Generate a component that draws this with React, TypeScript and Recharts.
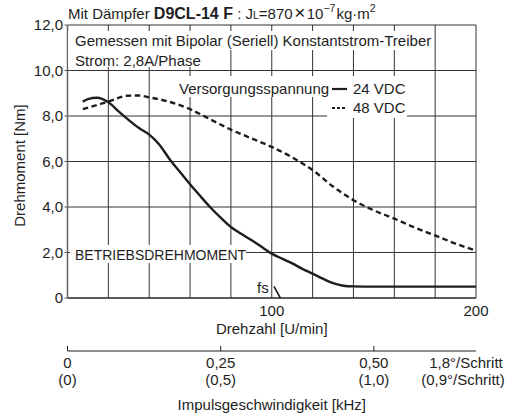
import React from 'react';
import { LineChart, Line, XAxis, YAxis, ReferenceLine, CartesianGrid } from 'recharts';

// Drehzahl [U/min] / Drehmoment [Nm]
const speed24 = [7.5, 10, 14.4, 20, 25, 30, 35, 40, 45, 50, 55, 60, 65, 70, 75, 80, 85, 90, 95, 100, 105, 110, 115, 120, 125, 130, 135, 140, 150, 200];
const torque24 = [8.63, 8.74, 8.8, 8.6, 8.2, 7.82, 7.47, 7.18, 6.74, 6.1, 5.55, 5.0, 4.48, 3.98, 3.53, 3.12, 2.82, 2.55, 2.25, 1.95, 1.73, 1.52, 1.28, 1.07, 0.85, 0.65, 0.54, 0.51, 0.5, 0.5];
const speed48 = [7.5, 15, 21, 25, 29, 35, 40, 50, 60, 70, 80, 90, 100, 110, 120, 130, 140, 150, 160, 170, 180, 190, 200];
const torque48 = [8.3, 8.5, 8.66, 8.8, 8.89, 8.9, 8.82, 8.62, 8.3, 7.85, 7.4, 7.02, 6.64, 6.18, 5.62, 4.9, 4.3, 3.85, 3.49, 3.1, 2.75, 2.39, 2.08];

const speedTicks = [0, 20, 40, 60, 80, 100, 120, 140, 160, 180, 200];
const speedLabels = [100, 200];
const torqueTicks = [0, 2, 4, 6, 8, 10, 12];

// second scale: Impulsgeschwindigkeit, placed at the matching speed
const pulseTicks = [0, 75, 150];
const pulseLabels = ['0', '0,25', '0,50'];
const halfStepLabels = ['(0)', '(0,5)', '(1,0)'];

const fsLine = [{ x: 101.1, y: 0.51 }, { x: 104.2, y: 0 }];

// one table for the chart, both curves keyed by speed
const speeds = Array.from(new Set([...speed24, ...speed48])).sort((a, b) => a - b);
const table = speeds.map((s) => {
  const i24 = speed24.indexOf(s);
  const i48 = speed48.indexOf(s);
  return { s, t24: i24 >= 0 ? torque24[i24] : null, t48: i48 >= 0 ? torque48[i48] : null };
});

const FONT = '"Liberation Sans", Arial, sans-serif';
const INK = '#1e1e1e';
const FS = 15;

const PulseTick = (props: any) => {
  const { x, y, payload } = props;
  const i = pulseTicks.indexOf(payload.value);
  if (i < 0) return null;
  return (
    <g>
      <line x1={x} x2={x} y1={y - 5} y2={y} stroke={INK} strokeWidth={1} />
      <text x={x} y={y + 17} textAnchor="middle" fontSize={FS} fill={INK} fontFamily={FONT}>{pulseLabels[i]}</text>
      <text x={x} y={y + 34} textAnchor="middle" fontSize={FS} fill={INK} fontFamily={FONT}>{halfStepLabels[i]}</text>
    </g>
  );
};

const fmtTorque = (v: number) => (v === 0 ? '0' : v.toFixed(1).replace('.', ','));

export default function App() {
  return (
    <div style={{ position: 'absolute', left: 0, top: 0, width: 516, height: 418, fontFamily: FONT }}>
      <LineChart width={516} height={418} data={table} margin={{ top: 25, right: 40, left: 0, bottom: 0 }}>
        <CartesianGrid stroke="#333" />
        <XAxis
          type="number"
          dataKey="s"
          domain={[0, 200]}
          ticks={speedTicks}
          tickFormatter={(v: number) => (speedLabels.includes(v) ? String(v) : '')}
          tickLine={false}
          tickSize={5}
          tickMargin={2}
          axisLine={{ stroke: INK }}
          height={53}
          tick={{ fontSize: FS, fill: INK, fontFamily: FONT }}
          label={{ value: 'Drehzahl [U/min]', position: 'insideBottom', offset: 17, fontSize: FS, fill: INK, fontFamily: FONT }}
        />
        <XAxis
          xAxisId="pulse"
          type="number"
          dataKey="s"
          domain={[0, 200]}
          ticks={pulseTicks}
          tick={<PulseTick />}
          tickLine={false}
          tickSize={0}
          tickMargin={0}
          axisLine={{ stroke: INK }}
          height={67}
          label={{ value: 'Impulsgeschwindigkeit [kHz]', position: 'insideBottom', offset: 8, fontSize: FS, fill: INK, fontFamily: FONT }}
        />
        <YAxis
          type="number"
          domain={[0, 12]}
          ticks={torqueTicks}
          tickFormatter={fmtTorque}
          width={67.5}
          tickSize={3}
          tickMargin={1.5}
          tickLine={{ stroke: '#555' }}
          axisLine={{ stroke: '#666', strokeWidth: 1.5 }}
          tick={{ fontSize: FS, fill: INK, fontFamily: FONT }}
          label={{ value: 'Drehmoment [Nm]', angle: -90, position: 'insideLeft', offset: 20, dy: 4, fontSize: FS, fill: INK, fontFamily: FONT, style: { textAnchor: 'middle' } }}
        />
        <Line dataKey="t48" type="monotone" connectNulls stroke={INK} strokeWidth={2.4} strokeDasharray="5.5 3.5" dot={false} isAnimationActive={false} />
        <Line dataKey="t24" type="monotone" connectNulls stroke={INK} strokeWidth={2.4} dot={false} isAnimationActive={false} />
        <ReferenceLine segment={fsLine} stroke={INK} strokeWidth={1.6} />
      </LineChart>
      <svg width={516} height={418} style={{ position: 'absolute', left: 0, top: 0, pointerEvents: 'none' }} fontFamily={FONT}>
        <text x={68} y={19} fontSize={FS} fill={INK}>
          <tspan>Mit Dämpfer </tspan>
          <tspan fontWeight={900} fontSize={16}>D9CL-14 F</tspan>
          <tspan> : J</tspan>
          <tspan fontSize={10.5}>L</tspan>
          <tspan>=870</tspan>
          <tspan dx={1.5} fontSize={19}>×</tspan>
          <tspan dx={1.5}>10</tspan>
          <tspan fontSize={10.5} dy={-7}>−7</tspan>
          <tspan dx={1} dy={7}>kg·m</tspan>
          <tspan fontSize={10.5} dy={-7}>2</tspan>
        </text>
        <rect x={68} y={31} width={365} height={19} fill="#fff" />
        <rect x={68} y={50} width={132} height={17} fill="#fff" />
        <text x={75} y={46} fontSize={FS} fill={INK}>Gemessen mit Bipolar (Seriell) Konstantstrom-Treiber</text>
        <text x={75} y={66} fontSize={FS} fill={INK}>Strom: 2,8A/Phase</text>

        <rect x={177} y={76} width={229} height={21} fill="#fff" />
        <rect x={327} y={97} width={80} height={21} fill="#fff" />
        <text x={179} y={94} fontSize={FS} fill={INK}>Versorgungsspannung</text>
        <line x1={332} x2={347} y1={89} y2={89} stroke={INK} strokeWidth={2.2} />
        <text x={353} y={94} fontSize={FS} fill={INK}>24 VDC</text>
        <line x1={332} x2={347} y1={108} y2={108} stroke={INK} strokeWidth={2.2} strokeDasharray="3 2" />
        <text x={353} y={113} fontSize={FS} fill={INK}>48 VDC</text>

        <rect x={70} y={245} width={176} height={18} fill="#fff" />
        <text x={75} y={260} fontSize={14} fill={INK}>BETRIEBSDREHMOMENT</text>

        <text x={257} y={293} fontSize={FS} fill={INK}>fs</text>

        <text x={466} y={368} fontSize={FS} fill={INK} textAnchor="middle">1,8°/Schritt</text>
        <text x={463} y={385} fontSize={FS} fill={INK} textAnchor="middle">(0,9°/Schritt)</text>
      </svg>
    </div>
  );
}
